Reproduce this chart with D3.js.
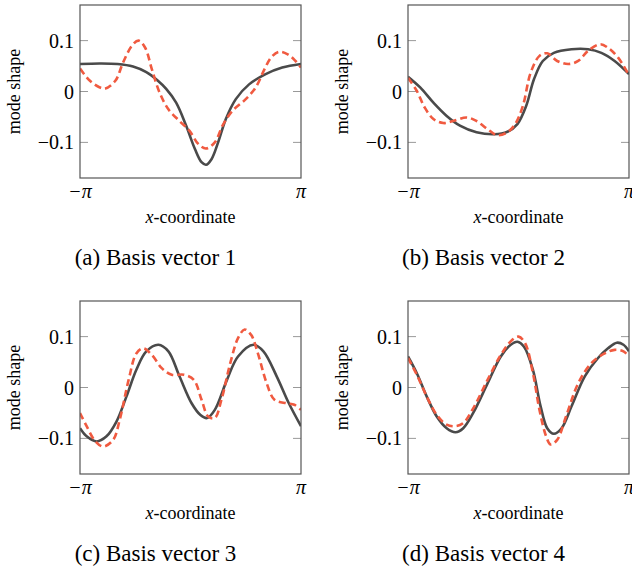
<!DOCTYPE html>
<html>
<head>
<meta charset="utf-8">
<script src="https://cdn.jsdelivr.net/npm/d3@7"></script>
<style>
  body { margin: 0; background: #fff; }
  text { font-family: "Liberation Serif", "DejaVu Serif", serif; fill: #000; }
</style>
</head>
<body>
<div id="chart"></div>
<script>
// x values are in units of pi (-1 .. 1)
const captions = ["(a) Basis vector 1", "(b) Basis vector 2", "(c) Basis vector 3", "(d) Basis vector 4"];
const yTicks = [-0.1, 0, 0.1];
const xTicks = [-1, 1];
const xTickLabels = ["\u2212\u03c0", "\u03c0"];

// solid gray (reference mode)
const mode1 = [[-1,0.054],[-0.82,0.055],[-0.66,0.054],[-0.52,0.049],[-0.40,0.038],[-0.30,0.022],[-0.22,0.005],[-0.13,-0.022],[-0.04,-0.067],[0.04,-0.113],[0.10,-0.139],[0.14,-0.144],[0.19,-0.133],[0.25,-0.1],[0.32,-0.054],[0.41,-0.015],[0.53,0.014],[0.68,0.034],[0.83,0.047],[1,0.054]];
const mode2 = [[-1,0.029],[-0.89,0.008],[-0.77,-0.022],[-0.65,-0.048],[-0.53,-0.067],[-0.38,-0.08],[-0.22,-0.084],[-0.10,-0.079],[-0.01,-0.064],[0.07,-0.028],[0.14,0.024],[0.22,0.06],[0.32,0.076],[0.48,0.083],[0.63,0.083],[0.75,0.076],[0.87,0.06],[1,0.034]];
const mode3 = [[-1,-0.08],[-0.94,-0.096],[-0.85,-0.106],[-0.76,-0.096],[-0.67,-0.067],[-0.58,-0.018],[-0.49,0.035],[-0.40,0.071],[-0.29,0.084],[-0.20,0.071],[-0.10,0.022],[0.01,-0.031],[0.09,-0.054],[0.15,-0.06],[0.22,-0.044],[0.33,0.015],[0.43,0.061],[0.57,0.084],[0.66,0.071],[0.78,0.022],[0.89,-0.031],[1,-0.076]];
const mode4 = [[-1,0.061],[-0.92,0.028],[-0.83,-0.018],[-0.74,-0.057],[-0.65,-0.08],[-0.57,-0.088],[-0.50,-0.08],[-0.41,-0.05],[-0.28,0.008],[-0.16,0.061],[-0.07,0.084],[-0.01,0.09],[0.05,0.08],[0.13,0.035],[0.20,-0.037],[0.26,-0.08],[0.32,-0.091],[0.39,-0.08],[0.48,-0.037],[0.60,0.022],[0.72,0.058],[0.81,0.077],[0.89,0.088],[0.95,0.084],[1,0.071]];

// dashed red (approximation)
const approx1 = [[-1,0.045],[-0.91,0.021],[-0.82,0.008],[-0.77,0.006],[-0.68,0.021],[-0.61,0.057],[-0.53,0.09],[-0.47,0.1],[-0.41,0.086],[-0.35,0.044],[-0.28,-0.002],[-0.20,-0.035],[-0.10,-0.058],[-0.01,-0.077],[0.07,-0.103],[0.14,-0.112],[0.22,-0.1],[0.29,-0.067],[0.38,-0.038],[0.50,-0.015],[0.59,0.008],[0.67,0.044],[0.73,0.067],[0.80,0.078],[0.88,0.073],[0.95,0.06],[1,0.047]];
const approx2 = [[-1,0.027],[-0.92,0.001],[-0.85,-0.031],[-0.77,-0.054],[-0.68,-0.062],[-0.59,-0.058],[-0.47,-0.051],[-0.38,-0.058],[-0.28,-0.074],[-0.19,-0.086],[-0.10,-0.08],[-0.03,-0.064],[0.04,-0.028],[0.11,0.037],[0.19,0.07],[0.26,0.075],[0.35,0.06],[0.45,0.054],[0.54,0.06],[0.63,0.08],[0.74,0.093],[0.81,0.086],[0.90,0.067],[1,0.032]];
const approx3 = [[-1,-0.05],[-0.94,-0.076],[-0.86,-0.106],[-0.79,-0.116],[-0.70,-0.103],[-0.64,-0.063],[-0.56,0.015],[-0.49,0.067],[-0.43,0.077],[-0.35,0.064],[-0.26,0.038],[-0.17,0.025],[-0.06,0.025],[0.03,0.015],[0.10,-0.024],[0.16,-0.057],[0.22,-0.06],[0.28,-0.024],[0.36,0.048],[0.43,0.097],[0.49,0.114],[0.55,0.103],[0.61,0.067],[0.69,0.008],[0.76,-0.024],[0.87,-0.031],[0.94,-0.034],[1,-0.044]];
const approx4 = [[-1,0.058],[-0.92,0.025],[-0.83,-0.018],[-0.74,-0.054],[-0.65,-0.073],[-0.57,-0.076],[-0.50,-0.07],[-0.41,-0.041],[-0.28,0.015],[-0.16,0.064],[-0.06,0.093],[0.00,0.1],[0.06,0.087],[0.13,0.029],[0.19,-0.044],[0.25,-0.096],[0.29,-0.112],[0.35,-0.103],[0.43,-0.057],[0.54,0.008],[0.66,0.048],[0.78,0.067],[0.87,0.074],[0.95,0.071],[1,0.061]];

const modes = [mode1, mode2, mode3, mode4];
const approxs = [approx1, approx2, approx3, approx4];

const W = 632, H = 569;
// panel frames (left, top) and size
const panels = [
  {x: 80, y: 5}, {x: 408, y: 5},
  {x: 80, y: 301}, {x: 408, y: 301}
];
const pw = 221, ph = 173;

const svg = d3.select("#chart").append("svg")
  .attr("width", W).attr("height", H);

panels.forEach(function(p, i) {
  const g = svg.append("g").attr("transform", `translate(${p.x}, ${p.y})`);

  const x = d3.scaleLinear().domain([-1, 1]).range([0, pw]);
  const y = d3.scaleLinear().domain([-0.17, 0.17]).range([ph, 0]);

  const clipId = "clip" + i;
  g.append("clipPath").attr("id", clipId)
    .append("rect").attr("width", pw).attr("height", ph);

  // tick marks inside on both sides
  yTicks.forEach(function(t) {
    g.append("line").attr("x1", 0).attr("x2", 8).attr("y1", y(t)).attr("y2", y(t))
      .attr("stroke", "#999").attr("stroke-width", 1);
    g.append("line").attr("x1", pw - 8).attr("x2", pw).attr("y1", y(t)).attr("y2", y(t))
      .attr("stroke", "#999").attr("stroke-width", 1);
  });

  const line = d3.line()
    .curve(d3.curveCatmullRom.alpha(0.5))
    .x((d) => x(d[0]))
    .y((d) => y(d[1]));

  g.append("path")
    .datum(modes[i])
    .attr("clip-path", `url(#${clipId})`)
    .attr("d", line)
    .attr("fill", "none")
    .attr("stroke", "#4a4a4a")
    .attr("stroke-width", 2.6);

  g.append("path")
    .datum(approxs[i])
    .attr("clip-path", `url(#${clipId})`)
    .attr("d", line)
    .attr("fill", "none")
    .attr("stroke", "#f05a40")
    .attr("stroke-width", 2.6)
    .attr("stroke-dasharray", "7,4");

  // frame
  g.append("rect").attr("width", pw).attr("height", ph)
    .attr("fill", "none").attr("stroke", "#555").attr("stroke-width", 1.2);

  // y tick labels
  g.selectAll(".ylab").data(yTicks).join("text")
    .attr("x", -6).attr("y", (d) => y(d))
    .attr("dy", "0.35em")
    .attr("text-anchor", "end")
    .style("font-size", "20px")
    .text((d) => d === 0 ? "0" : (d < 0 ? "\u2212" : "") + Math.abs(d));

  // x tick labels (the right one runs off the page edge, as in the original)
  g.selectAll(".xlab").data(xTicks).join("text")
    .attr("x", (d) => x(d)).attr("y", ph + 20)
    .attr("text-anchor", "middle")
    .style("font-size", "20px")
    .style("font-style", "italic")
    .text((d, j) => xTickLabels[j]);

  // axis labels
  const xl = g.append("text")
    .attr("x", pw / 2).attr("y", ph + 45)
    .attr("text-anchor", "middle")
    .style("font-size", "18px");
  xl.append("tspan").style("font-style", "italic").text("x");
  xl.append("tspan").text("-coordinate");

  g.append("text")
    .attr("transform", `translate(-60, ${ph / 2}) rotate(-90)`)
    .attr("text-anchor", "middle")
    .style("font-size", "18px")
    .text("mode shape");

  // caption
  g.append("text")
    .attr("x", pw / 2 - 35).attr("y", ph + 87)
    .attr("text-anchor", "middle")
    .style("font-size", "23px")
    .text(captions[i]);
});
</script>
</body>
</html>
